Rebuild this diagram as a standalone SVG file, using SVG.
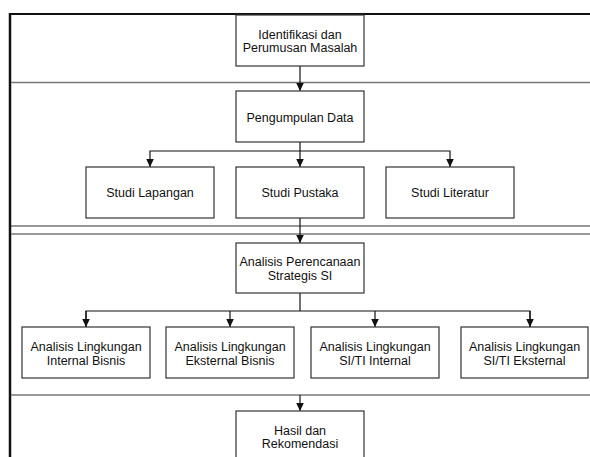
<svg xmlns="http://www.w3.org/2000/svg" width="590" height="457" viewBox="0 0 590 457">
<style>
.box{fill:#fff;stroke:#333;stroke-width:1.2}
.t{font-family:"Liberation Sans",Arial,sans-serif;font-size:12.5px;fill:#111;text-anchor:middle}
.c{fill:none;stroke:#111;stroke-width:1.2}
.lane{stroke:#777;stroke-width:1.3;fill:none}
.laned{stroke:#333;stroke-width:1.2;fill:none}
</style>
<defs>
<marker id="ah" markerUnits="userSpaceOnUse" markerWidth="10" markerHeight="10" viewBox="0 0 10 10" refX="9" refY="5" orient="auto">
<path d="M1,1.2 L9,5 L1,8.8 Z" fill="#111"/>
</marker>
</defs>
<g id="frame">
<rect x="0" y="0" width="590" height="457" fill="#fff"/>
<line x1="9" y1="14" x2="590" y2="14" stroke="#111" stroke-width="2.2"/>
<line x1="10" y1="13" x2="10" y2="457" stroke="#111" stroke-width="2.5"/>
<line class="lane" x1="11" y1="82.5" x2="590" y2="82.5"/>
<line class="laned" x1="11" y1="226" x2="590" y2="226"/>
<line class="lane" x1="11" y1="234" x2="590" y2="234"/>
<line class="lane" x1="11" y1="395" x2="590" y2="395"/>
</g>
<g id="connectors">
<line class="c" x1="300" y1="66" x2="300" y2="91" marker-end="url(#ah)"/>
<line class="c" x1="300" y1="142" x2="300" y2="167" marker-end="url(#ah)"/>
<polyline class="c" points="300,151 150,151 150,167" marker-end="url(#ah)"/>
<polyline class="c" points="300,151 450,151 450,167" marker-end="url(#ah)"/>
<line class="c" x1="300" y1="218" x2="300" y2="243" marker-end="url(#ah)"/>
<line class="c" x1="300" y1="293" x2="300" y2="311"/>
<polyline class="c" points="86,327 86,311 530,311 530,327"/>
<line class="c" x1="86" y1="311" x2="86" y2="327" marker-end="url(#ah)"/>
<line class="c" x1="230" y1="311" x2="230" y2="327" marker-end="url(#ah)"/>
<line class="c" x1="375" y1="311" x2="375" y2="327" marker-end="url(#ah)"/>
<line class="c" x1="530" y1="311" x2="530" y2="327" marker-end="url(#ah)"/>
<line class="c" x1="300" y1="395" x2="300" y2="411" marker-end="url(#ah)"/>
</g>
<g id="identifikasi">
<rect class="box" x="236" y="15" width="128" height="51"/>
<text class="t" x="300" y="38.5">Identifikasi dan</text>
<text class="t" x="300" y="51.5">Perumusan Masalah</text>
</g>
<g id="pengumpulan">
<rect class="box" x="236" y="91" width="128" height="51"/>
<text class="t" x="300" y="121.5">Pengumpulan Data</text>
</g>
<g id="studi-lapangan">
<rect class="box" x="86" y="167" width="128" height="51"/>
<text class="t" x="150" y="197">Studi Lapangan</text>
</g>
<g id="studi-pustaka">
<rect class="box" x="236" y="167" width="128" height="51"/>
<text class="t" x="300" y="197">Studi Pustaka</text>
</g>
<g id="studi-literatur">
<rect class="box" x="386" y="167" width="128" height="51"/>
<text class="t" x="450" y="197">Studi Literatur</text>
</g>
<g id="analisis-perencanaan">
<rect class="box" x="236" y="243" width="128" height="50"/>
<text class="t" x="300" y="266">Analisis Perencanaan</text>
<text class="t" x="300" y="279.5">Strategis SI</text>
</g>
<g id="internal-bisnis">
<rect class="box" x="22" y="327" width="128" height="51"/>
<text class="t" x="86" y="351">Analisis Lingkungan</text>
<text class="t" x="86" y="364.5">Internal Bisnis</text>
</g>
<g id="eksternal-bisnis">
<rect class="box" x="166" y="327" width="128" height="51"/>
<text class="t" x="230" y="351">Analisis Lingkungan</text>
<text class="t" x="230" y="364.5">Eksternal Bisnis</text>
</g>
<g id="siti-internal">
<rect class="box" x="311" y="327" width="128" height="51"/>
<text class="t" x="375" y="351">Analisis Lingkungan</text>
<text class="t" x="375" y="364.5">SI/TI Internal</text>
</g>
<g id="siti-eksternal">
<rect class="box" x="461" y="327" width="127" height="51"/>
<text class="t" x="524.5" y="351">Analisis Lingkungan</text>
<text class="t" x="524.5" y="364.5">SI/TI Eksternal</text>
</g>
<g id="hasil">
<rect class="box" x="236" y="411" width="128" height="51"/>
<text class="t" x="300" y="434.5">Hasil dan</text>
<text class="t" x="300" y="448">Rekomendasi</text>
</g>
</svg>
